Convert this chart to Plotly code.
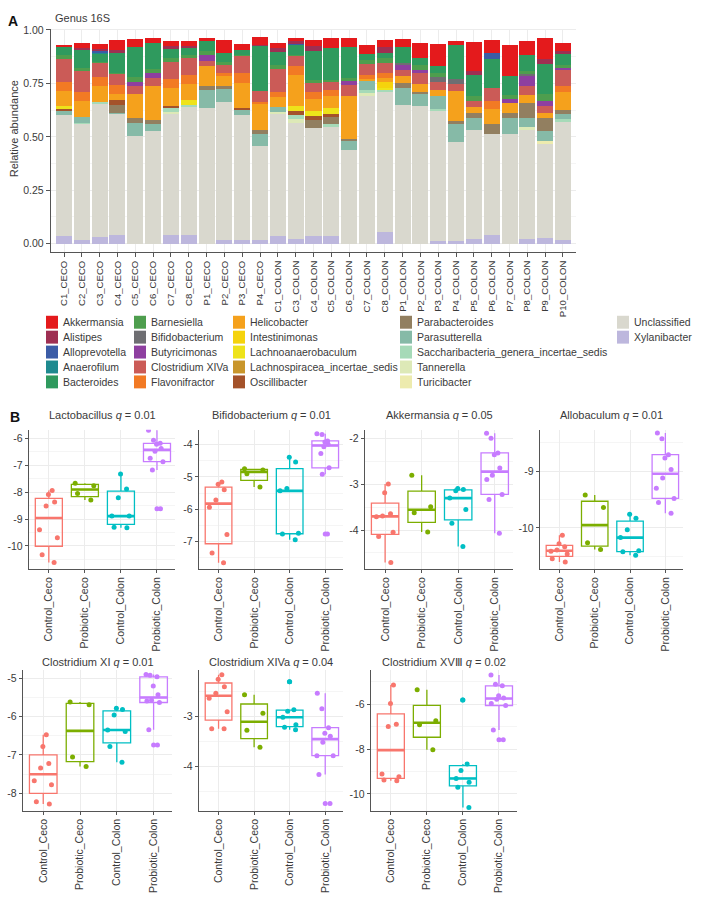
import numpy as np
import plotly.graph_objects as go

W, H = 704, 905
FONT = "Liberation Sans"
TXT = "#3A3A3A"

# ---------------- Panel A data ----------------
samples = ["C1_CECO", "C2_CECO", "C3_CECO", "C4_CECO", "C5_CECO", "C6_CECO", "C7_CECO", "C8_CECO",
           "P1_CECO", "P2_CECO", "P3_CECO", "P4_CECO",
           "C1_COLON", "C3_COLON", "C4_COLON", "C5_COLON", "C6_COLON", "C7_COLON", "C8_COLON",
           "P1_COLON", "P2_COLON", "P3_COLON", "P4_COLON", "P5_COLON", "P6_COLON", "P7_COLON",
           "P8_COLON", "P9_COLON", "P10_COLON"]

akkermansia = [0.008, 0.026, 0.023, 0.051, 0.040, 0.023, 0.026, 0.026, 0.012, 0.057, 0.026, 0.036,
               0.023, 0.016, 0.031, 0.047, 0.043, 0.042, 0.031,
               0.039, 0.073, 0.102, 0.016, 0.136, 0.059, 0.147, 0.067, 0.096, 0.039]
alistipes = [0.003, 0.011, 0.009, 0.011, 0, 0, 0.011, 0.008, 0.003, 0, 0, 0.008,
             0.020, 0.012, 0.023, 0, 0, 0, 0.028,
             0, 0, 0, 0, 0.022, 0, 0, 0, 0.023, 0.011]
alloprevotella = [0, 0, 0.008, 0, 0, 0, 0, 0, 0, 0, 0, 0,
                  0, 0.006, 0, 0, 0, 0, 0,
                  0, 0, 0, 0, 0, 0.026, 0, 0, 0, 0]
anaerofilum = [0, 0, 0.008, 0, 0, 0, 0, 0, 0, 0, 0, 0,
               0, 0, 0, 0, 0, 0, 0,
               0, 0, 0, 0, 0, 0, 0, 0, 0, 0]
bacteroides = [0.036, 0.080, 0.034, 0.093, 0.140, 0.124, 0.043, 0.031, 0.043, 0.042, 0.023, 0.209,
               0.060, 0.043, 0.132, 0.150, 0.143, 0.028, 0.026,
               0.074, 0.031, 0.034, 0.158, 0.098, 0.136, 0.088, 0.073, 0.141, 0.051]
barnesiella = [0.018, 0.018, 0.008, 0.008, 0.022, 0.016, 0.019, 0.016, 0.022, 0.016, 0.008, 0,
               0.020, 0.008, 0.016, 0.012, 0.016, 0.020, 0.023,
               0, 0.023, 0.020, 0, 0.023, 0, 0.020, 0.016, 0.034, 0.016]
bifidobacterium = [0, 0, 0, 0, 0, 0, 0, 0, 0, 0, 0, 0,
                   0, 0, 0, 0, 0, 0, 0,
                   0.008, 0, 0.022, 0.023, 0, 0, 0, 0.010, 0, 0]
butyricimonas = [0, 0, 0, 0, 0.017, 0.023, 0, 0, 0.025, 0, 0, 0,
                 0, 0, 0, 0, 0.016, 0, 0,
                 0.023, 0.016, 0, 0, 0, 0, 0.019, 0.047, 0.023, 0.011]
clostridium_xiva = [0.110, 0.098, 0.065, 0.051, 0.039, 0.039, 0.078, 0.078, 0.026, 0.036, 0.078, 0.050,
                    0.104, 0.047, 0.042, 0.034, 0.054, 0.053, 0.047,
                    0.031, 0.051, 0.036, 0.033, 0.028, 0.062, 0, 0.042, 0.031, 0.074]
flavonifractor = [0.040, 0.042, 0.043, 0.042, 0, 0, 0.043, 0.043, 0, 0.016, 0.046, 0.012,
                  0.025, 0.039, 0.033, 0.031, 0, 0.016, 0.023,
                  0, 0, 0, 0, 0, 0.039, 0, 0, 0, 0.026]
helicobacter = [0.073, 0.074, 0.073, 0.028, 0.112, 0.160, 0.085, 0.078, 0.093, 0.047, 0.116, 0.121,
                0.047, 0.147, 0.057, 0.057, 0.198, 0.012, 0.019,
                0.031, 0.037, 0.031, 0.143, 0.026, 0.070, 0.043, 0.036, 0.026, 0.087]
intestinimonas = [0, 0, 0, 0, 0, 0, 0, 0, 0, 0, 0, 0,
                  0, 0, 0, 0, 0, 0, 0.028,
                  0, 0, 0, 0, 0, 0, 0, 0, 0, 0]
lachnoanaerobaculum = [0.011, 0, 0, 0, 0, 0, 0, 0.022, 0, 0, 0, 0,
                       0, 0.023, 0.023, 0.025, 0, 0, 0.009,
                       0, 0, 0, 0, 0, 0, 0, 0, 0, 0]
lachnospiracea = [0, 0, 0, 0, 0, 0, 0, 0, 0, 0, 0, 0,
                  0, 0, 0, 0, 0, 0, 0,
                  0, 0, 0, 0, 0, 0, 0, 0, 0, 0]
oscillibacter = [0.009, 0, 0, 0.022, 0, 0, 0.011, 0, 0, 0, 0.012, 0,
                 0, 0.019, 0.020, 0.016, 0, 0, 0,
                 0, 0, 0, 0, 0, 0, 0, 0, 0, 0]
parabacteroides = [0, 0, 0, 0.039, 0.023, 0.016, 0, 0, 0.020, 0.011, 0, 0.019,
                   0, 0, 0.034, 0.034, 0.011, 0, 0,
                   0.023, 0.009, 0, 0.012, 0.026, 0.047, 0.023, 0.070, 0.059, 0.016]
parasutterella = [0.018, 0.028, 0, 0.005, 0.062, 0.034, 0, 0, 0.084, 0.064, 0.022, 0.054,
                  0.022, 0, 0, 0, 0.043, 0.043, 0,
                  0.081, 0.057, 0.057, 0.084, 0.056, 0, 0.078, 0.043, 0.047, 0.026]
saccharibacteria = [0, 0.003, 0.009, 0, 0, 0, 0.016, 0.009, 0, 0, 0, 0,
                    0, 0.020, 0, 0.012, 0, 0.011, 0.009,
                    0, 0, 0.009, 0, 0, 0, 0, 0, 0, 0.011]
tannerella = [0, 0, 0, 0, 0, 0, 0.012, 0, 0, 0, 0, 0,
              0.012, 0.019, 0, 0, 0, 0.016, 0,
              0, 0, 0, 0, 0, 0, 0, 0.016, 0, 0]
turicibacter = [0, 0, 0, 0, 0, 0, 0, 0, 0, 0, 0, 0,
                0, 0, 0, 0, 0, 0, 0,
                0, 0, 0, 0, 0, 0, 0, 0, 0.012, 0]
unclassified = [0.570, 0.543, 0.623, 0.566, 0.504, 0.527, 0.566, 0.597, 0.633, 0.643, 0.586, 0.439,
                0.569, 0.543, 0.509, 0.510, 0.437, 0.690, 0.656,
                0.648, 0.643, 0.611, 0.465, 0.507, 0.470, 0.512, 0.507, 0.440, 0.552]
xylanibacter = [0.034, 0.018, 0.031, 0.039, 0, 0, 0.039, 0.042, 0, 0.019, 0.016, 0.019,
                0.036, 0.020, 0.034, 0.036, 0, 0, 0.054,
                0, 0, 0.012, 0.012, 0.023, 0.042, 0, 0.023, 0.028, 0.019]

genus_names = ["Akkermansia", "Alistipes", "Alloprevotella", "Anaerofilum", "Bacteroides",
               "Barnesiella", "Bifidobacterium", "Butyricimonas", "Clostridium XIVa", "Flavonifractor",
               "Helicobacter", "Intestinimonas", "Lachnoanaerobaculum", "Lachnospiracea_incertae_sedis",
               "Oscillibacter", "Parabacteroides", "Parasutterella",
               "Saccharibacteria_genera_incertae_sedis", "Tannerella", "Turicibacter",
               "Unclassified", "Xylanibacter"]
genus_values = [akkermansia, alistipes, alloprevotella, anaerofilum, bacteroides,
                barnesiella, bifidobacterium, butyricimonas, clostridium_xiva, flavonifractor,
                helicobacter, intestinimonas, lachnoanaerobaculum, lachnospiracea,
                oscillibacter, parabacteroides, parasutterella,
                saccharibacteria, tannerella, turicibacter, unclassified, xylanibacter]
genus_colors = ["#E41A1C", "#9E2F52", "#3B5CA6", "#1E8A8F", "#2F9A5E",
                "#4E9E4E", "#6E6E72", "#8E3FA0", "#CB5B57", "#F27A24",
                "#F5A11C", "#F5D30C", "#EEE31A", "#C9962B",
                "#A4522A", "#927F60", "#86BAA7",
                "#A6DAB8", "#DDE9B7", "#EDEBAE", "#D9D8CE", "#BDB7DD"]

# ---------------- Panel B data ----------------
groups = ["Control_Ceco", "Probiotic_Ceco", "Control_Colon", "Probiotic_Colon"]
group_colors = ["#F8766D", "#7CAE00", "#00BFC4", "#C77CFF"]

lactobacillus = [[-7.94, -8.09, -8.37, -8.52, -9.40, -9.69, -10.33, -10.61],
                 [-7.67, -7.76, -8.05, -8.29],
                 [-7.33, -7.88, -8.21, -8.89, -8.89, -9.30, -9.32],
                 [-5.70, -6.07, -6.19, -6.22, -6.38, -6.48, -6.74, -6.87, -7.18, -8.62]]
bifido_log = [[-5.16, -5.23, -5.40, -5.71, -5.94, -6.78, -7.35, -7.65],
              [-4.75, -4.79, -4.90, -5.31],
              [-4.39, -4.54, -5.36, -5.43, -6.74, -6.76, -6.94],
              [-3.67, -3.69, -3.89, -3.92, -3.99, -4.07, -4.28, -4.72, -4.92, -6.76]]
akkermansia_log = [[-2.99, -3.18, -3.64, -3.69, -3.71, -4.05, -4.14, -4.71],
                   [-2.80, -3.49, -3.62, -4.04],
                   [-3.09, -3.11, -3.14, -3.30, -3.55, -3.85, -4.36],
                   [-1.88, -1.99, -2.31, -2.35, -2.64, -2.80, -2.89, -3.22, -3.33, -4.07]]
allobaculum = [[-10.13, -10.28, -10.33, -10.39, -10.41, -10.46, -10.54, -10.60],
               [-9.42, -9.64, -10.26, -10.38],
               [-9.76, -9.83, -10.03, -10.17, -10.40, -10.42, -10.48],
               [-8.33, -8.43, -8.71, -8.77, -8.97, -9.12, -9.30, -9.48, -9.55, -9.74]]
clostridium_xi = [[-6.47, -6.78, -7.22, -7.34, -7.67, -7.78, -8.22, -8.28],
                  [-5.62, -5.69, -7.05, -7.30],
                  [-5.78, -5.81, -5.96, -6.35, -6.39, -6.78, -7.19],
                  [-4.90, -4.92, -4.96, -5.20, -5.43, -5.57, -5.59, -5.63, -6.34, -6.74]]
clostridium_xiva_log = [[-2.17, -2.26, -2.41, -2.54, -2.64, -2.91, -3.25, -3.25],
                        [-2.57, -2.94, -3.28, -3.62],
                        [-2.31, -2.87, -2.90, -3.02, -3.17, -3.22, -3.27],
                        [-2.54, -2.85, -3.23, -3.34, -3.40, -3.52, -3.79, -3.79, -4.17, -4.75]]
clostridium_xviii = [[-5.14, -5.97, -6.89, -6.99, -9.11, -9.23, -9.38, -9.41],
                     [-5.36, -6.74, -6.92, -8.03],
                     [-5.81, -8.67, -8.96, -9.31, -9.48, -9.70, -10.60],
                     [-4.70, -5.11, -5.18, -5.62, -5.72, -5.78, -5.97, -6.06, -7.15, -7.59]]

panel_titles = ["Lactobacillus <i>q</i> = 0.01", "Bifidobacterium <i>q</i> = 0.01",
                "Akkermansia <i>q</i> = 0.05", "Allobaculum <i>q</i> = 0.01",
                "Clostridium XI <i>q</i> = 0.01", "Clostridium XIVa <i>q</i> = 0.04",
                "Clostridium XVⅢ <i>q</i> = 0.02"]
panel_data = [lactobacillus, bifido_log, akkermansia_log, allobaculum,
              clostridium_xi, clostridium_xiva_log, clostridium_xviii]
panel_yticks = [[-10, -9, -8, -7, -6], [-7, -6, -5, -4], [-4, -3, -2], [-10, -9],
                [-8, -7, -6, -5], [-4, -3], [-10, -8, -6]]

# ---------------- layout geometry (pixels) ----------------
panel_x = [(29, 175), (199, 343), (365, 513), (540, 683), (23, 172), (199, 343), (371, 517)]
panel_y = [(427, 567)] * 4 + [(669, 810)] * 3
panel_yrange = [(-10.85, -5.68), (-7.84, -3.54), (-4.85, -1.80), (-10.72, -8.27),
                (-8.45, -4.79), (-4.89, -2.08), (-10.74, -4.49)]
panel_minor = [0.5, 0.5, 0.5, 0.5, 0.5, 0.5, 1.0]


def xd(a, b):
    return [a / W, b / W]


def yd(top, bottom):
    return [1 - bottom / H, 1 - top / H]


fig = go.Figure()

# stacked bars: bottom-most first
for name, vals, col in reversed(list(zip(genus_names, genus_values, genus_colors))):
    fig.add_trace(go.Bar(x=samples, y=vals, name=name, marker=dict(color=col, line=dict(width=0)),
                         xaxis="x", yaxis="y", showlegend=False))

shapes = []
annotations = []

# box panels
for p, (data, yt) in enumerate(zip(panel_data, panel_yticks)):
    ax = str(p + 2)
    for gi, (vals, col) in enumerate(zip(data, group_colors)):
        arr = np.array(vals)
        fig.add_trace(go.Box(
            y=arr, x=[gi] * len(arr), name=groups[gi], xaxis="x" + ax, yaxis="y" + ax,
            boxpoints="all", jitter=0.85, pointpos=0, width=0.75, whiskerwidth=0,
            fillcolor="rgba(255,255,255,0)", line=dict(color=col, width=1.3),
            marker=dict(color=col, size=5), showlegend=False))
        q1, med, q3 = np.percentile(arr, [25, 50, 75])
        iqr = q3 - q1
        outl = arr[(arr < q1 - 1.5 * iqr) | (arr > q3 + 1.5 * iqr)]
        if len(outl):
            fig.add_trace(go.Scatter(x=[gi] * len(outl), y=outl, mode="markers",
                                     marker=dict(color=col, size=5), xaxis="x" + ax, yaxis="y" + ax,
                                     showlegend=False, hoverinfo="skip"))
        shapes.append(dict(type="line", xref="x" + ax, yref="y" + ax, x0=gi - 0.375, x1=gi + 0.375,
                           y0=med, y1=med, line=dict(color=col, width=2.6)))
    # title
    x0, x1 = panel_x[p]
    ty = 412 if p < 4 else 661
    annotations.append(dict(text=panel_titles[p], x=(x0 + x1) / 2 / W, y=1 - ty / H, xref="paper",
                            yref="paper", showarrow=False, xanchor="center", yanchor="middle",
                            font=dict(size=11, color=TXT)))

layout_axes = {}
layout_axes["xaxis"] = dict(domain=xd(51, 576), type="category", range=[-0.73, 28.73],
                            tickangle=-90, tickfont=dict(size=9.6, color=TXT), ticks="outside",
                            ticklen=4, tickcolor="#555", showline=True, linecolor="#555", linewidth=1.2,
                            showgrid=True, gridcolor="#ECECEC", anchor="y", fixedrange=True)
layout_axes["yaxis"] = dict(domain=yd(24, 248), range=[-0.037, 1.005],
                            tickvals=[0, 0.25, 0.5, 0.75, 1.0],
                            ticktext=["0.00", "0.25", "0.50", "0.75", "1.00"],
                            tickfont=dict(size=10.5, color=TXT), ticks="outside", ticklen=4,
                            tickcolor="#555", showline=True, linecolor="#555", linewidth=1.2,
                            showgrid=True, gridcolor="#ECECEC", zeroline=False,
                            minor=dict(tickvals=[0.125, 0.375, 0.625, 0.875], showgrid=True,
                                       gridcolor="#F5F5F5"),
                            anchor="x", fixedrange=True)

for p in range(7):
    ax = str(p + 2)
    x0, x1 = panel_x[p]
    ytop, ybot = panel_y[p]
    yt = panel_yticks[p]
    layout_axes["xaxis" + ax] = dict(domain=xd(x0, x1), range=[-0.55, 3.5], tickvals=[0, 1, 2, 3],
                                     ticktext=groups, tickangle=-90,
                                     tickfont=dict(size=10.5, color=TXT), ticks="outside", ticklen=3,
                                     tickcolor="#555", showline=True, linecolor="#555", linewidth=1.2,
                                     showgrid=True, gridcolor="#ECECEC", zeroline=False,
                                     anchor="y" + ax, fixedrange=True)
    layout_axes["yaxis" + ax] = dict(domain=yd(ytop, ybot), range=list(panel_yrange[p]),
                                     tickvals=yt, ticktext=[str(v) for v in yt],
                                     tickfont=dict(size=10.5, color=TXT), ticks="outside", ticklen=3,
                                     tickcolor="#555", showline=True, linecolor="#555", linewidth=1.2,
                                     showgrid=True, gridcolor="#ECECEC", zeroline=False,
                                     minor=dict(dtick=panel_minor[p], tick0=0, showgrid=True,
                                                gridcolor="#F5F5F5"),
                                     anchor="x" + ax, fixedrange=True)

# manual legend for panel A (5 columns, column-major)
col_x = [46, 134, 233, 400, 617]
row_y = [319, 334, 349, 364, 379]
for i, (name, col) in enumerate(zip(genus_names, genus_colors)):
    c, r = divmod(i, 5)
    sx, sy = col_x[c], row_y[r]
    shapes.append(dict(type="rect", xref="paper", yref="paper", x0=sx / W, x1=(sx + 12) / W,
                       y0=1 - (sy + 6.5) / H, y1=1 - (sy - 6.5) / H, fillcolor=col, line=dict(width=0)))
    annotations.append(dict(text=name, x=(sx + 15) / W, y=1 - sy / H, xref="paper", yref="paper",
                            showarrow=False, xanchor="left", yanchor="middle",
                            font=dict(size=10.5, color=TXT)))

# labels
annotations += [
    dict(text="<b>A</b>", x=6 / W, y=1 - 16 / H, xref="paper", yref="paper", showarrow=False,
         xanchor="left", yanchor="middle", font=dict(size=14, color="#111")),
    dict(text="<b>B</b>", x=8 / W, y=1 - 414 / H, xref="paper", yref="paper", showarrow=False,
         xanchor="left", yanchor="middle", font=dict(size=14, color="#111")),
    dict(text="Genus 16S", x=53 / W, y=1 - 13 / H, xref="paper", yref="paper", showarrow=False,
         xanchor="left", yanchor="middle", font=dict(size=11, color=TXT)),
    dict(text="Relative abundance", x=14 / W, y=1 - 125 / H, xref="paper", yref="paper",
         showarrow=False, textangle=-90, xanchor="center", yanchor="middle",
         font=dict(size=11, color=TXT)),
]

fig.update_layout(
    width=W, height=H, autosize=False, margin=dict(l=0, r=0, t=0, b=0),
    paper_bgcolor="white", plot_bgcolor="white", barmode="stack", bargap=0.1,
    font=dict(family=FONT, size=11, color=TXT), showlegend=False, hovermode=False,
    shapes=shapes, annotations=annotations, **layout_axes)

fig.write_html("out.html", config={"displayModeBar": False, "staticPlot": True},
               post_script="document.body.style.margin='0';document.body.style.padding='0';")
